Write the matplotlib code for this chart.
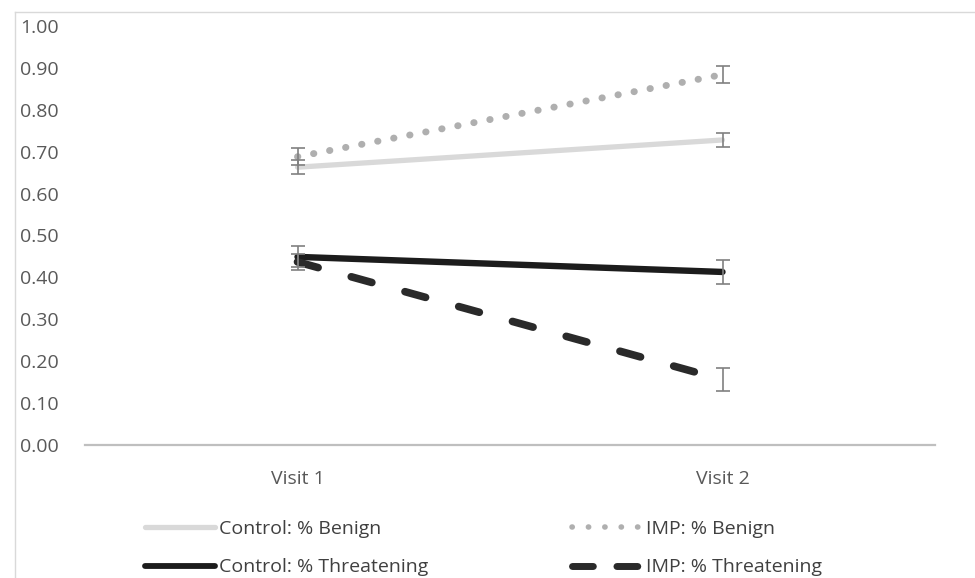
import matplotlib.pyplot as plt
import numpy as np
from matplotlib.lines import Line2D

plt.rcParams['font.family'] = ['Open Sans', 'DejaVu Sans']

visits = ['Visit 1', 'Visit 2']
control_benign = [0.663, 0.728]
control_benign_err = [0.017, 0.017]
imp_benign = [0.688, 0.884]
imp_benign_err = [0.020, 0.021]
control_threat = [0.449, 0.413]
control_threat_err = [0.025, 0.029]
imp_threat = [0.437, 0.156]
imp_threat_err = [0.020, 0.027]
yticks = np.arange(0, 1.01, 0.1)

fig = plt.figure(figsize=(9.75, 5.78), dpi=100)
ax = fig.add_axes([85 / 975, 1 - 445 / 578, 850 / 975, 419 / 578])
x = np.arange(len(visits))

# 线条
ax.plot(x, control_benign, color='#d9d9d9', lw=3.8, solid_capstyle='round')
ax.plot(x, imp_benign, color='#afafaf', lw=5, linestyle=(0, (0.05, 2.3)),
        dash_capstyle='round')
ax.plot(x, control_threat, color='#1c1c1c', lw=4.6, solid_capstyle='round')
ax.plot(x, imp_threat, color='#2a2a2a', lw=5.5, linestyle=(0, (2.8, 4.5)),
        dash_capstyle='round')

# 误差线
for vals, errs in [(control_benign, control_benign_err), (imp_benign, imp_benign_err),
                   (control_threat, control_threat_err), (imp_threat, imp_threat_err)]:
    ax.errorbar(x, vals, yerr=errs, fmt='none', ecolor='#808080', elinewidth=1.2,
                capsize=5, capthick=1.2, zorder=5)

ax.set_xlim(-0.5, 1.5)
ax.set_ylim(0, 1.0)
ax.set_yticks(yticks)
ax.set_yticklabels([f'{v:.2f}' for v in yticks])
ax.set_xticks(x)
ax.set_xticklabels(visits)
ax.tick_params(axis='both', length=0, labelsize=14, labelcolor='#595959')
ax.tick_params(axis='y', pad=19)
ax.tick_params(axis='x', pad=18)
for s in ['top', 'right', 'left']:
    ax.spines[s].set_visible(False)
ax.spines['bottom'].set_color('#bfbfbf')
ax.spines['bottom'].set_linewidth(1.6)

# 图例
h_cb = Line2D([], [], color='#d9d9d9', lw=3.8, solid_capstyle='round')
h_ct = Line2D([], [], color='#1c1c1c', lw=4.2, solid_capstyle='round')
h_ib = Line2D([], [], color='#afafaf', lw=4.0, linestyle=(0, (0.05, 2.9)),
              dash_capstyle='round')
h_it = Line2D([], [], color='#2a2a2a', lw=5.0, linestyle=(0, (3.0, 3.4)),
              dash_capstyle='round')
leg_kw = dict(frameon=False, fontsize=14, handlelength=3.6, handletextpad=0.2,
              labelspacing=1.05, borderpad=0, borderaxespad=0, labelcolor='#404040')
fig.legend([h_cb, h_ct], ['Control: % Benign', 'Control: % Threatening'],
           loc='upper left', bbox_to_anchor=(145 / 975, 1 - 520 / 578), **leg_kw)
fig.legend([h_ib, h_it], ['IMP: % Benign', 'IMP: % Threatening'],
           loc='upper left', bbox_to_anchor=(572 / 975, 1 - 520 / 578), **leg_kw)

# 外框
fig.add_artist(Line2D([15 / 975, 15 / 975], [0, 1 - 12 / 578], color='#d9d9d9', lw=1,
                      transform=fig.transFigure))
fig.add_artist(Line2D([15 / 975, 1], [1 - 12 / 578, 1 - 12 / 578], color='#d9d9d9', lw=1,
                      transform=fig.transFigure))

fig.savefig('out.png', dpi=100)
